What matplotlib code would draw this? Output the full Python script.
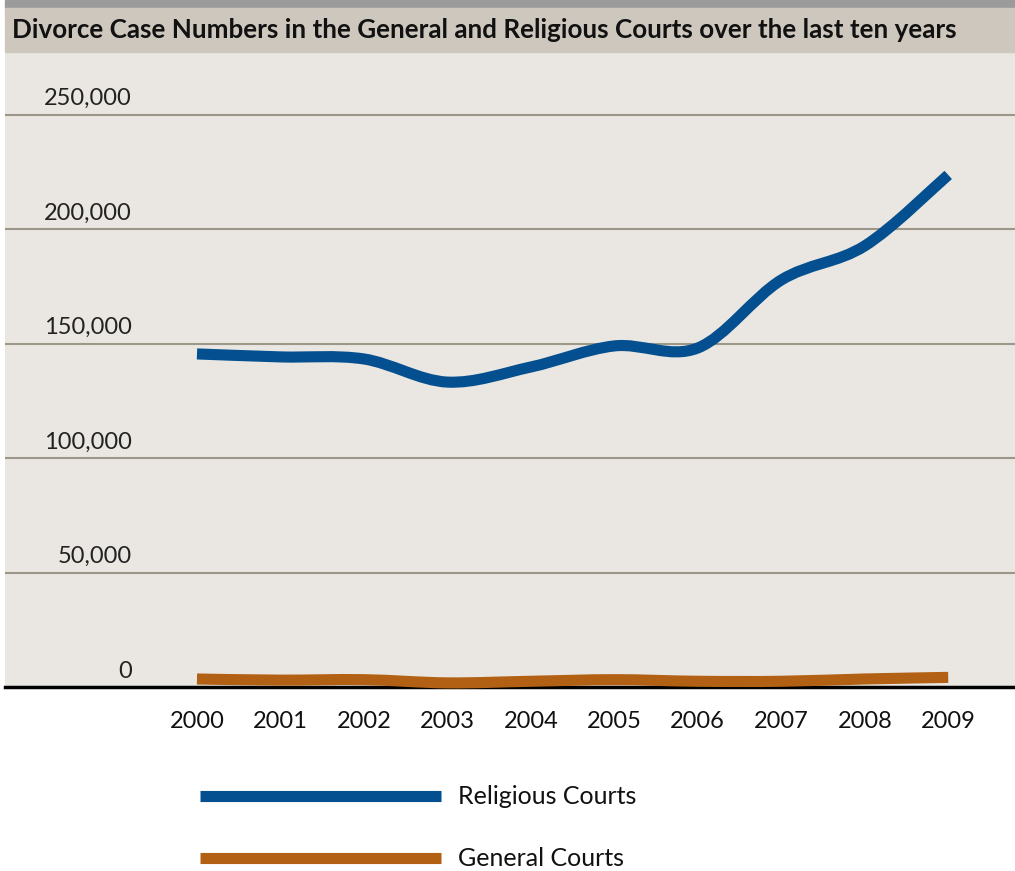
import matplotlib.pyplot as plt
import numpy as np
from matplotlib.path import Path
from matplotlib.patches import PathPatch, Rectangle

plt.rcParams['font.family'] = ['Lato', 'DejaVu Sans']

# data
years = [2000, 2001, 2002, 2003, 2004, 2005, 2006, 2007, 2008, 2009]
religious = [145500, 144200, 143300, 133200, 139800, 149000, 148100, 177800, 192700, 223700]
general = [3500, 3000, 3200, 1800, 2500, 3200, 2500, 2500, 3500, 4200]
yticks = [0, 50000, 100000, 150000, 200000, 250000]

title = 'Divorce Case Numbers in the General and Religious Courts over the last ten years'
blue = '#034f8f'
orange = '#b26114'


def smooth_path(xs, ys):
    # catmull-rom style bezier through the data points (like excel smoothed lines)
    xs = np.asarray(xs, float)
    ys = np.asarray(ys, float)
    verts = [(xs[0], ys[0])]
    codes = [Path.MOVETO]
    n = len(xs)
    for i in range(n - 1):
        x0, y0 = (xs[i - 1], ys[i - 1]) if i > 0 else (xs[i], ys[i])
        x1, y1 = xs[i], ys[i]
        x2, y2 = xs[i + 1], ys[i + 1]
        x3, y3 = (xs[i + 2], ys[i + 2]) if i + 2 < n else (x2, y2)
        c1 = (x1 + (x2 - x0) / 6, y1 + (y2 - y0) / 6)
        c2 = (x2 - (x3 - x1) / 6, y2 - (y3 - y1) / 6)
        verts += [c1, c2, (x2, y2)]
        codes += [Path.CURVE4] * 3
    return Path(verts, codes)


fig = plt.figure(figsize=(10.15, 8.71), dpi=100)
W, H = 1015, 871

# title band
fig.patches.append(Rectangle((5 / W, 1 - 8 / H), 1, 8 / H, transform=fig.transFigure,
                             color='#9b9b9b', zorder=0))
fig.patches.append(Rectangle((5 / W, 1 - 52 / H), 1, 44 / H, transform=fig.transFigure,
                             color='#cdc7bd', zorder=0))
ttl = fig.text(12 / W, 1 - 30 / H, title, fontsize=17, fontweight='bold',
               va='center', ha='left', color='#111111')
# stretch title to the width it has in the original
r = fig.canvas.get_renderer()
w = ttl.get_window_extent(r).width
ttl.set_fontsize(17 * 943 / w)

ax = fig.add_axes([5 / W, 1 - 687 / H, 1 - 5 / W, (687 - 52) / H])
ax.set_facecolor('#eae7e2')
ax.set_xlim(1997.70, 2009.80)
ax.set_ylim(0, 277400)

for t in yticks[1:]:
    ax.axhline(t, color='#9d9789', lw=1.5, zorder=1)

for s in ['top', 'right', 'left']:
    ax.spines[s].set_visible(False)
ax.spines['bottom'].set_color('black')
ax.spines['bottom'].set_linewidth(2.5)
ax.spines['bottom'].set_zorder(2)

ax.add_patch(PathPatch(smooth_path(years, religious), fill=False, edgecolor=blue,
                       lw=8, capstyle='butt', zorder=3))
ax.add_patch(PathPatch(smooth_path(years, general), fill=False, edgecolor=orange,
                       lw=8, capstyle='butt', zorder=3, clip_on=False))

ax.set_yticks([])
for t in yticks:
    ax.annotate(f'{t:,}', xy=(0, t), xycoords=('axes fraction', 'data'),
                xytext=(127, 16), textcoords='offset pixels',
                ha='right', va='center', fontsize=17, color='#222222')

ax.set_xticks(years)
ax.set_xticklabels([str(y) for y in years], fontsize=17, color='#111111')
ax.tick_params(axis='x', length=0, pad=17)

# legend drawn manually
lax = fig.add_axes([0, 0, 1, 1], facecolor='none')
lax.set_xlim(0, W)
lax.set_ylim(H, 0)
lax.axis('off')
lax.plot([200, 441], [796, 796], color=blue, lw=8, solid_capstyle='butt')
lax.plot([200, 441], [858, 858], color=orange, lw=8, solid_capstyle='butt')
lax.text(458, 796, 'Religious Courts', fontsize=18, va='center', color='#111111')
lax.text(458, 858, 'General Courts', fontsize=18, va='center', color='#111111')

fig.savefig('out.png', dpi=100, facecolor='white')
